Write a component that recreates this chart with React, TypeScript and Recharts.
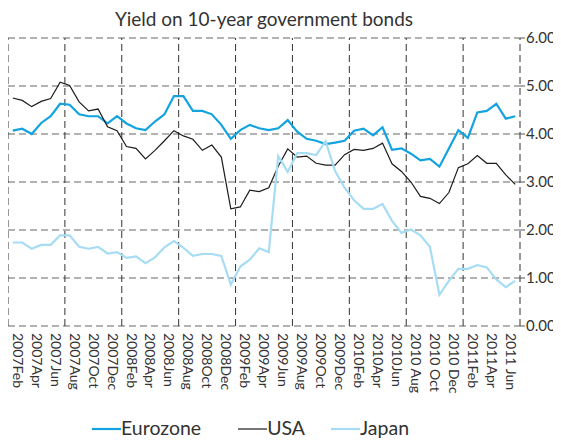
import { LineChart, Line, XAxis, YAxis, CartesianGrid, ReferenceLine } from "recharts";

const tickLabels = [
  "2007Feb", "2007Apr", "2007Jun", "2007Aug", "2007Oct", "2007Dec",
  "2008Feb", "2008Apr", "2008Jun", "2008Aug", "2008Oct", "2008Dec",
  "2009Feb", "2009Apr", "2009Jun", "2009Aug", "2009Oct", "2009Dec",
  "2010Feb", "2010Apr", "2010Jun", "2010 Aug", "2010 Oct", "2010 Dec",
  "2011Feb", "2011Apr", "2011 Jun",
];

// monthly values, Feb 2007 .. Jul 2011
const eurozone = [
  4.07, 4.11, 4.0, 4.23, 4.37, 4.63, 4.61, 4.41, 4.37, 4.37, 4.22, 4.37,
  4.22, 4.12, 4.08, 4.26, 4.41, 4.79, 4.79, 4.48, 4.48, 4.41, 4.19, 3.9,
  4.08, 4.19, 4.12, 4.08, 4.12, 4.29, 4.05, 3.9, 3.86, 3.79, 3.82, 3.86,
  4.07, 4.11, 3.97, 4.14, 3.67, 3.7, 3.59, 3.45, 3.48, 3.32, 3.7, 4.08,
  3.92, 4.45, 4.48, 4.63, 4.32, 4.37,
];
const usa = [
  4.75, 4.7, 4.57, 4.68, 4.74, 5.08, 5.01, 4.67, 4.48, 4.52, 4.15, 4.07,
  3.74, 3.7, 3.48, 3.66, 3.86, 4.07, 3.96, 3.89, 3.66, 3.77, 3.52, 2.44,
  2.48, 2.83, 2.8, 2.88, 3.33, 3.69, 3.52, 3.54, 3.39, 3.35, 3.35, 3.57,
  3.68, 3.66, 3.7, 3.81, 3.38, 3.22, 3.0, 2.7, 2.66, 2.55, 2.78, 3.3,
  3.38, 3.55, 3.39, 3.39, 3.15, 2.95,
];
const japan = [
  1.74, 1.74, 1.61, 1.69, 1.69, 1.89, 1.89, 1.65, 1.61, 1.65, 1.51, 1.54,
  1.42, 1.45, 1.31, 1.43, 1.64, 1.77, 1.63, 1.46, 1.5, 1.5, 1.46, 0.86,
  1.24, 1.38, 1.62, 1.54, 3.54, 3.21, 3.6, 3.6, 3.56, 3.85, 3.23, 2.88,
  2.62, 2.44, 2.44, 2.54, 2.19, 1.94, 2.01, 1.89, 1.65, 0.65, 0.94, 1.19,
  1.19, 1.27, 1.22, 0.97, 0.81, 0.94,
];
const yTicks = [0, 1, 2, 3, 4, 5, 6];

const EURO = "#12a3e0";
const USA = "#1c1c1c";
const JAPAN = "#a6dcf4";

const data = eurozone.map((v, i) => ({
  x: i + 0.5,
  eurozone: v,
  usa: usa[i],
  japan: japan[i],
}));

const nMonths = eurozone.length;
const labelTicks = tickLabels.map((_, k) => k * 2 + 0.5);
const gridX = Array.from({ length: nMonths / 6 + 1 }, (_, k) => k * 6);

const legendItems = [
  { name: "Eurozone", color: EURO, width: 2.2 },
  { name: "USA", color: USA, width: 1.2 },
  { name: "Japan", color: JAPAN, width: 2.2 },
];

function MonthTick({ x, y, payload }: any) {
  const label = tickLabels[Math.floor(payload.value / 2)];
  return (
    <g transform={`translate(${x},${y})`}>
      <text transform="rotate(90)" x={7} y={0} fill="#333" fontSize={14} textAnchor="start">
        {label}
      </text>
    </g>
  );
}

export default function App() {
  return (
    <div style={{ position: "relative", width: 553, height: 433, fontFamily: "Lato, sans-serif" }}>
      <div
        style={{
          position: "absolute",
          top: -1,
          left: 0,
          width: 512,
          textAlign: "center",
          fontSize: 19,
          lineHeight: "24px",
          color: "#333",
        }}
      >
        Yield on 10-year government bonds
      </div>

      <LineChart
        width={553}
        height={403}
        data={data}
        margin={{ top: 30, right: 0, left: 0, bottom: 0 }}
        style={{ fontFamily: "Lato, sans-serif" }}
      >
        <CartesianGrid vertical={false} stroke="#666" strokeWidth={1.2} strokeDasharray="7 4" />
        {gridX.map((g) => (
          <ReferenceLine key={g} x={g} stroke="#333" strokeWidth={1} strokeDasharray="7 4" />
        ))}
        <XAxis
          type="number"
          dataKey="x"
          domain={[0, nMonths]}
          ticks={labelTicks}
          interval={0}
          tick={<MonthTick />}
          tickLine={false}
          axisLine={false}
          tickSize={0}
          tickMargin={0}
          height={85}
        />
        <YAxis
          orientation="right"
          domain={[0, 6]}
          ticks={yTicks}
          tickFormatter={(v: number) => v.toFixed(2)}
          axisLine={false}
          tickLine={{ stroke: "#555" }}
          tickSize={5}
          tickMargin={1}
          width={41}
          tick={{ fill: "#333", fontSize: 15 }}
        />
        <Line dataKey="eurozone" stroke={EURO} strokeWidth={2.2} dot={false} isAnimationActive={false} />
        <Line dataKey="usa" stroke={USA} strokeWidth={1.2} dot={false} isAnimationActive={false} />
        <Line dataKey="japan" stroke={JAPAN} strokeWidth={2.2} dot={false} isAnimationActive={false} />
      </LineChart>

      <div
        style={{
          position: "absolute",
          top: 408,
          left: 84,
          display: "flex",
          fontSize: 19.5,
          lineHeight: "24px",
          color: "#333",
        }}
      >
        {legendItems.map((it, i) => (
          <div key={it.name} style={{ display: "flex", alignItems: "center", marginRight: i === 0 ? 37 : 26 }}>
            <svg width={29} height={24}>
              <line x1={0} x2={29} y1={13} y2={13} stroke={it.color} strokeWidth={it.width} />
            </svg>
            <span>{it.name}</span>
          </div>
        ))}
      </div>
    </div>
  );
}
